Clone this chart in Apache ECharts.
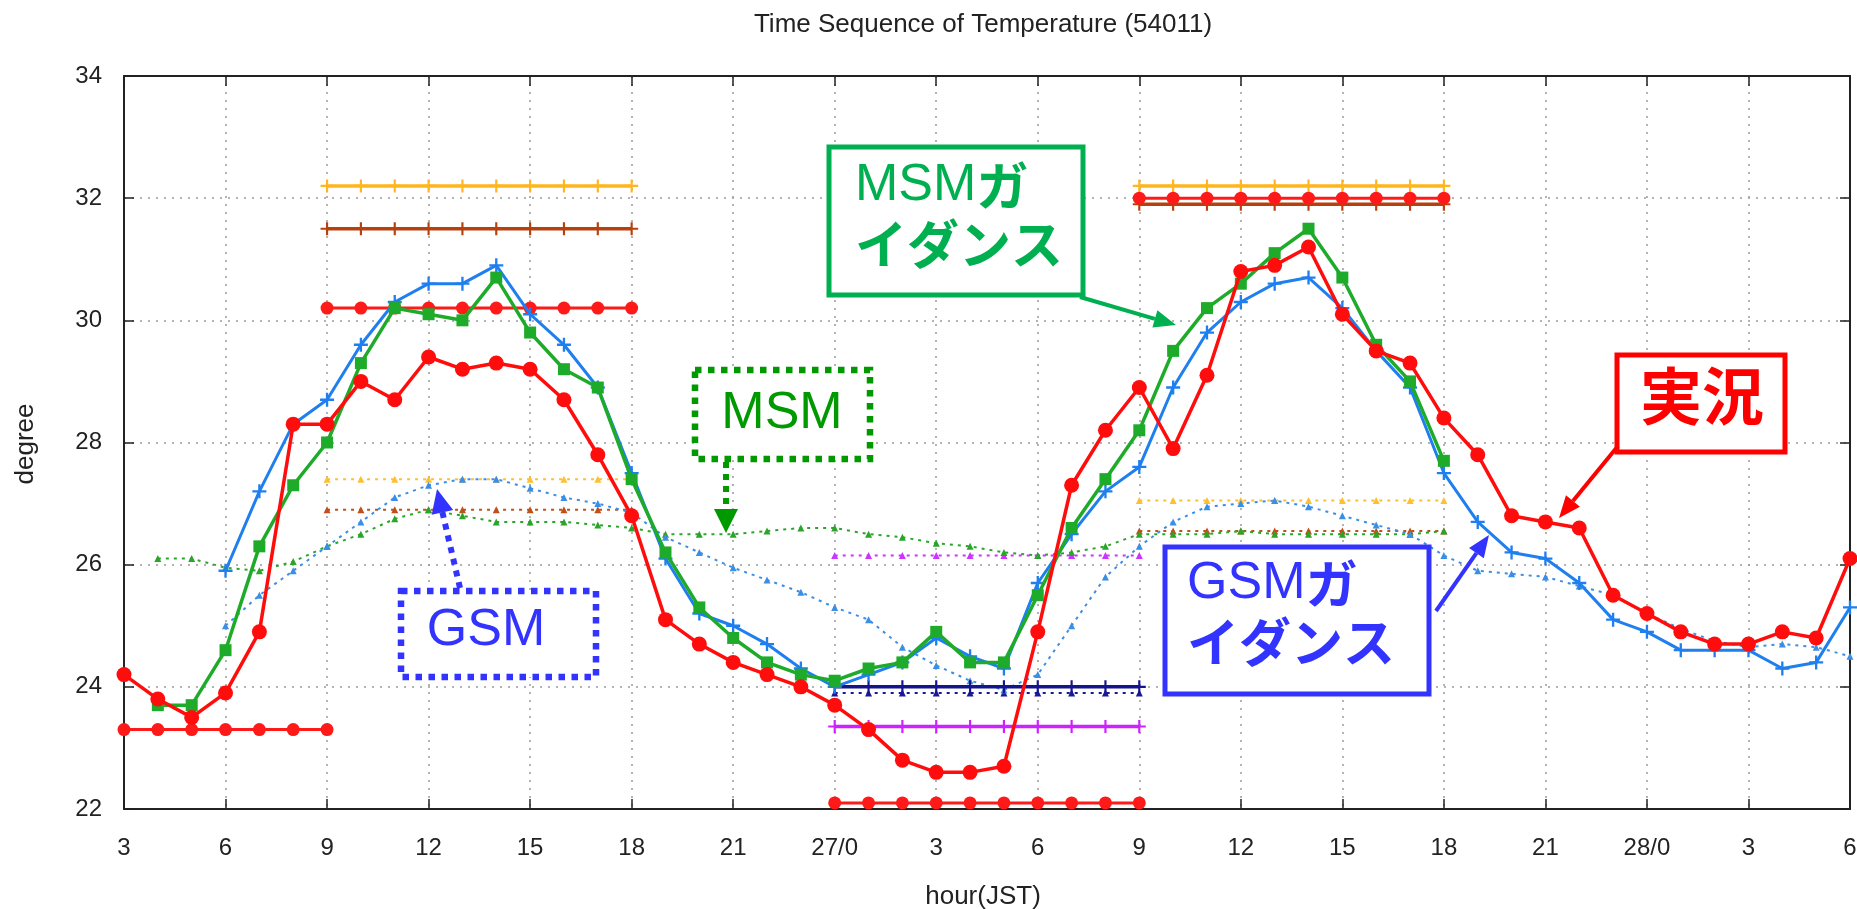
<!DOCTYPE html>
<html><head><meta charset="utf-8">
<script src="https://cdn.jsdelivr.net/npm/echarts@6/dist/echarts.min.js"></script>
<style>html,body{margin:0;padding:0;background:#fff}#c{width:1857px;height:909px}</style>
</head><body><div id="c"></div>
<script>
// x values are hours counted from day 26, 00 JST
const tickLabels = ["3","6","9","12","15","18","21","27/0","3","6","9","12","15","18","21","28/0","3","6"];

// 実況 (observation) 26/3 .. 28/6
const obsStart = 3;
const obs = [24.2,23.8,23.5,23.9,24.9,28.3,28.3,29.0,28.7,29.4,29.2,29.3,29.2,28.7,27.8,26.8,25.1,24.7,24.4,24.2,24.0,
  23.7,23.3,22.8,22.6,22.6,22.7,24.9,27.3,28.2,28.9,27.9,29.1,30.8,30.9,31.2,30.1,29.5,29.3,28.4,27.8,26.8,26.7,26.6,25.5,
  25.2,24.9,24.7,24.7,24.9,24.8,26.1];

// MSMガイダンス 26/4 .. 27/18
const msmGuideStart = 4;
const msmGuide = [23.7,23.7,24.6,26.3,27.3,28.0,29.3,30.2,30.1,30.0,30.7,29.8,29.2,28.9,27.4,26.2,25.3,24.8,24.4,24.2,
  24.1,24.3,24.4,24.9,24.4,24.4,25.5,26.6,27.4,28.2,29.5,30.2,30.6,31.1,31.5,30.7,29.6,29.0,27.7];

// GSMガイダンス 26/6 .. 28/6
const gsmGuideStart = 6;
const gsmGuide = [25.9,27.2,28.3,28.7,29.6,30.3,30.6,30.6,30.9,30.1,29.6,28.9,27.5,26.1,25.2,25.0,24.7,24.3,
  24.0,24.2,24.4,24.8,24.5,24.3,25.7,26.5,27.2,27.6,28.9,29.8,30.3,30.6,30.7,30.2,29.5,28.9,27.5,26.7,26.2,26.1,25.7,25.1,
  24.9,24.6,24.6,24.6,24.3,24.4,25.3];

// MSM (model) 26/4 .. 27/18
const msmStart = 4;
const msm = [26.1,26.1,25.95,25.9,26.05,26.3,26.5,26.75,26.9,26.8,26.7,26.7,26.7,26.65,26.6,26.5,26.5,26.5,26.55,26.6,
  26.6,26.5,26.45,26.35,26.3,26.2,26.15,26.2,26.3,26.5,26.5,26.5,26.55,26.5,26.5,26.5,26.5,26.5,26.55];

// GSM (model) 26/6 .. 28/6
const gsmStart = 6;
const gsm = [25.0,25.5,25.9,26.3,26.7,27.1,27.3,27.4,27.4,27.25,27.1,27.0,26.85,26.45,26.2,25.95,25.75,25.55,
  25.3,25.1,24.65,24.35,24.1,23.95,24.2,25.0,25.8,26.3,26.7,26.95,27.0,27.05,26.95,26.8,26.65,26.5,26.15,25.9,25.85,25.8,25.65,25.5,
  25.2,24.95,24.75,24.65,24.7,24.65,24.5];

// max / min forecast segments (hourly values)
const day26MaxStart = 9;
const gsmGuideMax26 = [32.2,32.2,32.2,32.2,32.2,32.2,32.2,32.2,32.2,32.2];
const msmGuideMax26 = [31.5,31.5,31.5,31.5,31.5,31.5,31.5,31.5,31.5,31.5];
const obsMax26      = [30.2,30.2,30.2,30.2,30.2,30.2,30.2,30.2,30.2,30.2];
const gsmMax26      = [27.4,27.4,27.4,27.4,27.4,27.4,27.4,27.4,27.4,27.4];
const msmMax26      = [26.9,26.9,26.9,26.9,26.9,26.9,26.9,26.9,26.9,26.9];
const day26MinStart = 3;
const obsMin26      = [23.3,23.3,23.3,23.3,23.3,23.3,23.3];
const day27MinStart = 24;
const gsmMin27      = [26.15,26.15,26.15,26.15,26.15,26.15,26.15,26.15,26.15,26.15];
const gsmGuideMin27 = [24.0,24.0,24.0,24.0,24.0,24.0,24.0,24.0,24.0,24.0];
const msmMin27      = [23.9,23.9,23.9,23.9,23.9,23.9,23.9,23.9,23.9,23.9];
const msmGuideMin27 = [23.35,23.35,23.35,23.35,23.35,23.35,23.35,23.35,23.35,23.35];
const obsMin27      = [22.1,22.1,22.1,22.1,22.1,22.1,22.1,22.1,22.1,22.1];
const day27MaxStart = 33;
const gsmGuideMax27 = [32.2,32.2,32.2,32.2,32.2,32.2,32.2,32.2,32.2,32.2];
const obsMax27      = [32.0,32.0,32.0,32.0,32.0,32.0,32.0,32.0,32.0,32.0];
const msmGuideMax27 = [31.9,31.9,31.9,31.9,31.9,31.9,31.9,31.9,31.9,31.9];
const gsmMax27      = [27.05,27.05,27.05,27.05,27.05,27.05,27.05,27.05,27.05,27.05];
const msmMax27      = [26.55,26.55,26.55,26.55,26.55,26.55,26.55,26.55,26.55,26.55];

function pts(start, vals){ return vals.map((v,i)=>[start+i, v]); }

const PLUS = 'path://M5,0L7,0L7,5L12,5L12,7L7,7L7,12L5,12L5,7L0,7L0,5L5,5Z';
const DOT = [3,5];

function solid(start, vals, color, width, symbol, size, z){
  return {type:'line', data:pts(start, vals), z:z||2, silent:true, animation:false,
    lineStyle:{color:color, width:width}, itemStyle:{color:color},
    symbol:symbol, symbolSize:size, showSymbol:true};
}
function dotted(start, vals, color, z){
  return {type:'line', data:pts(start, vals), z:z||1, silent:true, animation:false,
    lineStyle:{color:color, width:2, type:DOT}, itemStyle:{color:color},
    symbol:'triangle', symbolSize:7, showSymbol:true};
}

const series = [
  dotted(day26MaxStart, gsmMax26, '#ffc030'),
  dotted(day26MaxStart, msmMax26, '#c0501a'),
  dotted(day27MaxStart, gsmMax27, '#ffc030'),
  dotted(day27MaxStart, msmMax27, '#c0501a'),
  dotted(day27MinStart, gsmMin27, '#cc33ff'),
  dotted(day27MinStart, msmMin27, '#1a1a99'),
  dotted(msmStart, msm, '#2aa52a'),
  dotted(gsmStart, gsm, '#3a8ee6'),
  solid(day26MaxStart, gsmGuideMax26, '#ffb61e', 3.5, PLUS, 13),
  solid(day26MaxStart, msmGuideMax26, '#b8400c', 3.5, PLUS, 13),
  solid(day26MaxStart, obsMax26, '#ff1a1a', 3, 'circle', 13),
  solid(day26MinStart, obsMin26, '#ff1a1a', 3, 'circle', 13),
  solid(day27MinStart, gsmGuideMin27, '#14148c', 3.5, PLUS, 13),
  solid(day27MinStart, msmGuideMin27, '#cc22ff', 3.5, PLUS, 13),
  solid(day27MinStart, obsMin27, '#ff1a1a', 3, 'circle', 13),
  solid(day27MaxStart, gsmGuideMax27, '#ffb61e', 3.5, PLUS, 13),
  solid(day27MaxStart, msmGuideMax27, '#b8400c', 3.5, PLUS, 13),
  solid(day27MaxStart, obsMax27, '#ff1a1a', 3, 'circle', 13),
  solid(gsmGuideStart, gsmGuide, '#1f7fef', 3, PLUS, 14, 3),
  solid(msmGuideStart, msmGuide, '#1fab2a', 3.5, 'rect', 12, 4),
  solid(obsStart, obs, '#ff0d0d', 3.5, 'circle', 15, 5)
];

function arrow(x1,y1,x2,y2,color,width,dash,hl,hw){
  const dx=x2-x1, dy=y2-y1, L=Math.hypot(dx,dy), ux=dx/L, uy=dy/L;
  const bx=x2-ux*hl, by=y2-uy*hl, px=-uy, py=ux;
  return [
    {type:'line', z:100, shape:{x1:x1,y1:y1,x2:bx,y2:by},
      style:{stroke:color, lineWidth:width, lineDash:dash||null}},
    {type:'polygon', z:100, shape:{points:[[x2,y2],[bx+px*hw/2,by+py*hw/2],[bx-px*hw/2,by-py*hw/2]]},
      style:{fill:color}}
  ];
}
function box(x,y,w,h,color,lw,dash){
  return {type:'rect', z:99, shape:{x:x,y:y,width:w,height:h},
    style:{fill:'#fff', stroke:color, lineWidth:lw, lineDash:dash||null}};
}
function rich(color){
  return {
    a:{fontSize:52, fontFamily:'Liberation Sans', fill:color, lineHeight:58},
    b:{fontSize:52, fontFamily:'Noto Sans CJK JP', fontWeight:'bold', fill:color, lineHeight:58}
  };
}
const MSMG='#00b050', MSMC='#009900', GSMC='#3333ff', OBSC='#ff0000';
const TXT='#222';

const graphic = [
  {type:'text', x:983, y:25, z:100, style:{text:'Time Sequence of Temperature (54011)', font:'26px "Liberation Sans"', fill:TXT, align:'center', verticalAlign:'middle'}},
  {type:'text', x:983, y:897, z:100, style:{text:'hour(JST)', font:'26px "Liberation Sans"', fill:TXT, align:'center', verticalAlign:'middle'}},
  {type:'text', x:26, y:444, rotation:Math.PI/2, z:100, style:{text:'degree', font:'26px "Liberation Sans"', fill:TXT, align:'center', verticalAlign:'middle'}},
  // MSMガイダンス
  box(829,147,254,148,MSMG,5),
  {type:'text', x:855, y:157, z:101, style:{text:'{a|MSM}{b|ガ}\n{b|イダンス}', rich:rich(MSMG)}},
  ...arrow(1080,297,1176,325,MSMG,4,null,22,18),
  // MSM
  box(695,370,175,89,MSMC,6.5,[6.5,6.5]),
  {type:'text', x:782, y:414, z:101, style:{text:'MSM', font:'52px "Liberation Sans"', fill:MSMC, align:'center', verticalAlign:'middle'}},
  ...arrow(726,462,726,533,MSMC,6,[6,6],24,24),
  // GSM
  box(401,591,195,86,GSMC,6.5,[6.5,6.5]),
  {type:'text', x:486, y:631, z:101, style:{text:'GSM', font:'52px "Liberation Sans"', fill:GSMC, align:'center', verticalAlign:'middle'}},
  ...arrow(460,588,437,489,GSMC,6,[6,6],24,22),
  // GSMガイダンス
  box(1165,547,264,147,GSMC,5),
  {type:'text', x:1187, y:555, z:101, style:{text:'{a|GSM}{b|ガ}\n{b|イダンス}', rich:rich(GSMC)}},
  ...arrow(1436,611,1489,535,GSMC,4,null,22,18),
  // 実況
  box(1617,355,168,97,OBSC,5),
  {type:'text', x:1702, y:396, z:101, style:{text:'実況', font:'bold 62px "Noto Sans CJK JP"', fill:OBSC, align:'center', verticalAlign:'middle'}},
  ...arrow(1618,446,1559,518,OBSC,4,null,22,18)
];

const axisLine = {show:true, onZero:false, lineStyle:{color:'#222', width:2}};
const tick = {show:true, inside:true, length:10, lineStyle:{color:'#222', width:1.5}};
const split = {show:true, lineStyle:{color:'#9a9a9a', width:1.5, type:[2,6]}};
const labelFont = {fontSize:24, color:TXT, fontFamily:'Liberation Sans'};

const option = {
  backgroundColor:'#fff',
  animation:false,
  grid:{left:124, right:7, top:76, bottom:100, containLabel:false, outerBoundsMode:'none'},
  xAxis:[
    {type:'value', position:'bottom', min:3, max:54, interval:3, axisLine:axisLine, axisTick:tick, splitLine:split,
      axisLabel:Object.assign({margin:27, formatter:v=>tickLabels[Math.round((v-3)/3)]}, labelFont)},
    {type:'value', position:'top', min:3, max:54, interval:3, axisLine:axisLine, axisTick:tick,
      splitLine:{show:false}, axisLabel:{show:false}}
  ],
  yAxis:[
    {type:'value', position:'left', min:22, max:34, interval:2, axisLine:axisLine, axisTick:tick, splitLine:split,
      axisLabel:Object.assign({margin:22}, labelFont)},
    {type:'value', position:'right', min:22, max:34, interval:2, axisLine:axisLine, axisTick:tick,
      splitLine:{show:false}, axisLabel:{show:false}}
  ],
  series:series,
  graphic:graphic
};
const chart = echarts.init(document.getElementById('c'), null, {renderer:'canvas'});
chart.setOption(option);
</script></body></html>
